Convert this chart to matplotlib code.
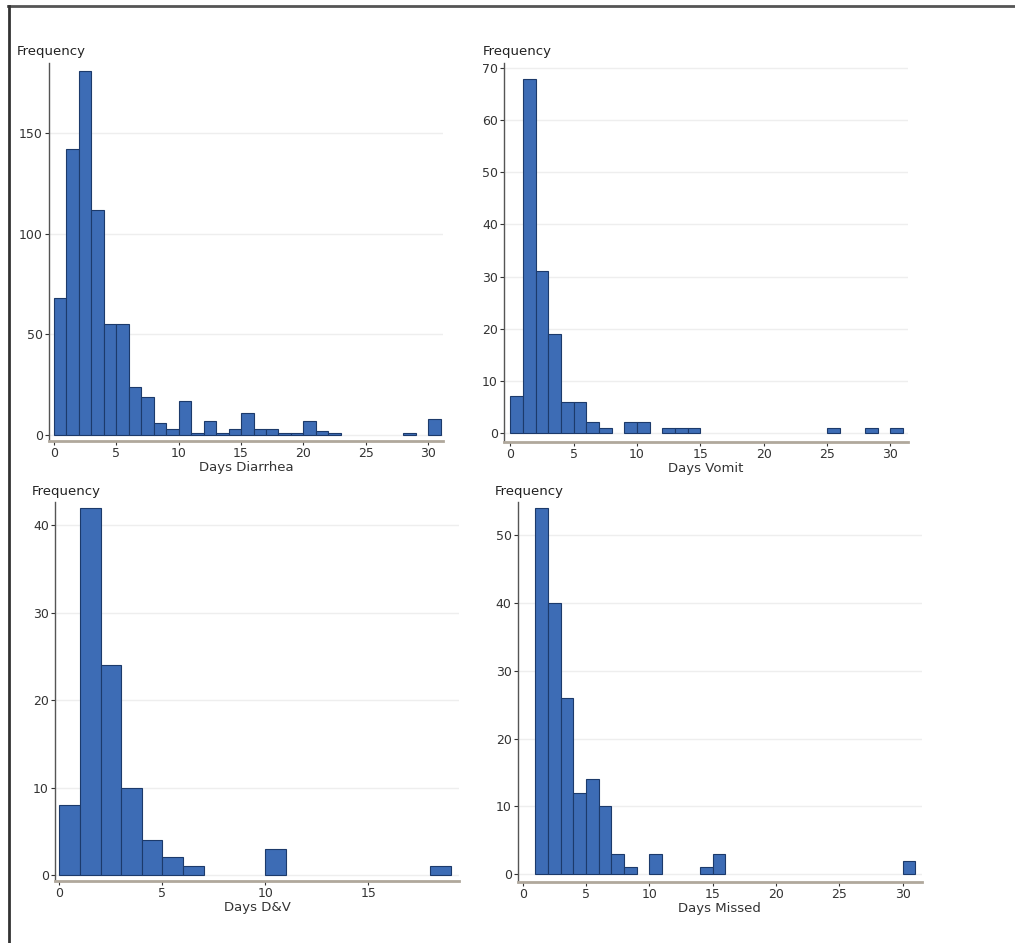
import matplotlib.pyplot as plt
import numpy as np
from matplotlib.lines import Line2D

# histogram counts, one value per 1-day bin starting at 0
diarrhea_counts = [68, 142, 181, 112, 55, 55, 24, 19, 6, 3, 17, 1, 7, 1, 3, 11,
                   3, 3, 1, 1, 7, 2, 1, 0, 0, 0, 0, 0, 1, 0, 8]
vomit_counts = [7, 68, 31, 19, 6, 6, 2, 1, 0, 2, 2, 0, 1, 1, 1, 0,
                0, 0, 0, 0, 0, 0, 0, 0, 0, 1, 0, 0, 1, 0, 1]
dv_counts = [8, 42, 24, 10, 4, 2, 1, 0, 0, 0, 3, 0, 0, 0, 0, 0, 0, 0, 1]
missed_counts = [0, 54, 40, 26, 12, 14, 10, 3, 1, 0, 3, 0, 0, 0, 1, 3,
                 0, 0, 0, 0, 0, 0, 0, 0, 0, 0, 0, 0, 0, 0, 2]

x_labels = ["Days Diarrhea", "Days Vomit", "Days D&V", "Days Missed"]
y_ticks = [[0, 50, 100, 150], list(range(0, 71, 10)),
           [0, 10, 20, 30, 40], [0, 10, 20, 30, 40, 50]]
x_ticks = [list(range(0, 31, 5)), list(range(0, 31, 5)),
           [0, 5, 10, 15], list(range(0, 31, 5))]

panels = [
    # counts, axes rect, xlim, ylim, "Frequency" position
    (diarrhea_counts, [0.0483, 0.5327, 0.3882, 0.4005], (-0.4, 31.2), (-2.8, 185), (0.0167, 0.9449)),
    (vomit_counts, [0.4966, 0.5316, 0.3980, 0.4016], (-0.5, 31.4), (-1.7, 71), (0.4759, 0.9449)),
    (dv_counts, [0.0542, 0.0661, 0.3980, 0.4019], (-0.21, 19.4), (-0.65, 42.7), (0.0315, 0.4783)),
    (missed_counts, [0.5103, 0.0650, 0.3978, 0.4027], (-0.37, 31.5), (-1.1, 54.9), (0.4877, 0.4783)),
]

bar_color = "#3d6cb5"
edge_color = "#1c3a6b"

fig = plt.figure(figsize=(10.15, 9.43), dpi=100)

for i, (counts, rect, xl, yl, flab) in enumerate(panels):
    ax = fig.add_axes(rect)
    counts = np.array(counts)
    left = np.arange(len(counts))
    keep = counts > 0
    ax.bar(left[keep], counts[keep], width=1, align="edge",
           color=bar_color, edgecolor=edge_color, linewidth=0.8, zorder=3)
    ax.set_xlim(*xl)
    ax.set_ylim(*yl)
    ax.set_xticks(x_ticks[i])
    ax.set_yticks(y_ticks[i])
    ax.yaxis.grid(True, color="#eeeeee", linewidth=1, zorder=0)
    ax.set_axisbelow(True)
    for s in ["top", "right"]:
        ax.spines[s].set_visible(False)
    ax.spines["left"].set_color("#555555")
    ax.spines["left"].set_linewidth(1)
    ax.spines["bottom"].set_color("#b0a89c")
    ax.spines["bottom"].set_linewidth(2)
    ax.tick_params(axis="both", labelsize=9, colors="#333333", length=3,
                   width=0.8, pad=1.5)
    ax.set_xlabel(x_labels[i], fontsize=9.5, color="#333333", labelpad=1)
    fig.text(flab[0], flab[1], "Frequency", fontsize=9.5, color="#222222",
             ha="left", va="center")

# outer frame (top and left edges only)
fig.add_artist(Line2D([8 / 1015, 1], [1 - 6 / 943, 1 - 6 / 943],
                      transform=fig.transFigure, color="#555555", linewidth=2))
fig.add_artist(Line2D([9 / 1015, 9 / 1015], [0, 1 - 6 / 943],
                      transform=fig.transFigure, color="#333333", linewidth=2))

fig.savefig("out.png", dpi=100)
